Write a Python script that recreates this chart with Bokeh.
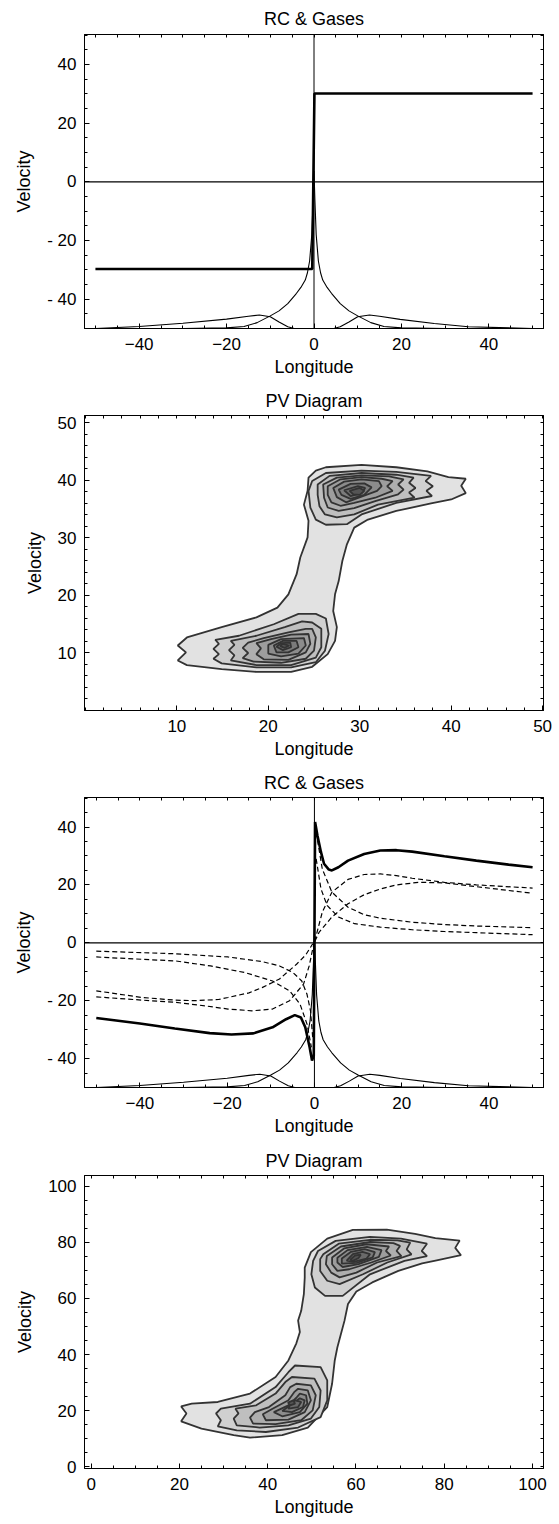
from bokeh.plotting import figure
from bokeh.layouts import column
from bokeh.models import LinearAxis, FixedTicker, Range1d, Span, ColumnDataSource
from bokeh.embed import file_html
from bokeh.resources import INLINE

FONT = "Liberation Sans"
TICK_FS = "17px"
LABEL_FS = "18px"

# ---------------- Panel 1: RC & Gases (step rotation curve) ----------------
RC1_X = [-50, -0.4, 0.1, 50]
RC1_Y = [-29.7, -29.7, 30.1, 30.1]

GAS_C_X = [-50, -30, -20, -16, -13, -10, -8, -6, -4, -3, -2, -1.5, -1, -0.5, -0.2, 0,
           0.2, 0.5, 1, 1.5, 2, 3, 4, 6, 8, 10, 13, 16, 20, 30, 50]
GAS_C_Y = [-50, -50, -49.8, -49.3, -48, -45.7, -44, -41.5, -38, -36, -33.5, -31, -27, -18, -6, 3.7,
           -6, -18, -27, -31, -33.5, -36, -38, -41.5, -44, -45.7, -48, -49.3, -49.8, -50, -50]
GAS_L_X = [-50, -40, -30, -20, -15, -12.5, -10, -8, -6, -4.5, 0]
GAS_L_Y = [-50, -49.3, -48.2, -46.8, -45.8, -45.4, -46, -47.8, -49.4, -50, -50]
GAS_R_X = [0, 4.5, 6, 8, 10, 12.7, 15, 19.7, 27.5, 35.3, 50]
GAS_R_Y = [-50, -50, -49.4, -47.8, -46, -45.4, -45.8, -46.9, -48.3, -49.4, -50]

# ---------------- Panel 3: RC & Gases (model rotation curve) ----------------
RC3_X = [-50, -40, -32, -24, -19, -14, -9.6, -6.5, -4.5, -3.1, -2.1, -1.1, -0.55, -0.15,
         0.15, 0.7, 1.5, 2.2, 3.3, 4, 5.5, 7.7, 11.4, 15.1, 18.8, 22.4, 29.8, 37.1, 44.5, 50]
RC3_Y = [-26, -27.9, -29.6, -31.2, -31.7, -31.3, -29.2, -26.4, -25, -25.8, -29.2, -36.1, -40.7, -39,
         41.7, 37, 31.3, 27.3, 25.3, 25, 26.1, 28.4, 30.7, 31.9, 32, 31.5, 29.9, 28.4, 27, 26.1]

DA_X = [0.4, 1.8, 4, 7.7, 11.4, 15.1, 22.4, 29.8, 37.1, 50]
DA_Y = [38.2, 25.5, 17.5, 12.3, 9.7, 8.5, 7.1, 6.3, 5.8, 5.2]
DB_X = [0.4, 1.5, 2.9, 5.5, 9.2, 15.1, 22.4, 29.8, 37.1, 50]
DB_Y = [29, 18.6, 12.9, 8.9, 6.6, 5.4, 4.5, 3.9, 3.5, 2.8]
DC_X = [0.1, 0.4, 1.8, 4, 7.7, 11.4, 15.1, 18.8, 22.4, 29.8, 37.1, 50]
DC_Y = [0.5, 2.5, 10.6, 17.5, 21.9, 23.6, 23.8, 23.2, 22.3, 20.9, 20, 18.9]
DD_X = [0.1, 1.1, 4, 7.7, 11.4, 15.1, 18.8, 23.9, 29.8, 37.1, 50]
DD_Y = [0.5, 3.7, 8.9, 13.5, 16.6, 18.6, 20, 20.9, 20.7, 19.4, 17.1]

DA2_X = [-50, -31.7, -23.8, -15.9, -9.6, -5.7, -3.3, -1.7, -0.7]
DA2_Y = [-4.9, -6.3, -8, -10.3, -13.2, -16.6, -21.2, -28.1, -36.1]
DB2_X = [-50, -31.7, -19.8, -12, -8, -4.9, -2.9, -1.7, -0.9, -0.4]
DB2_Y = [-2.9, -3.8, -4.9, -6.5, -8, -10.3, -13.2, -17.8, -23.5, -32.7]
DC2_X = [-50, -39.5, -31.7, -25, -19.8, -14.3, -9.6, -5.7, -2.5, -1.2, -0.5, -0.1]
DC2_Y = [-18.7, -19.8, -20.6, -21.8, -22.9, -23.5, -22.9, -20, -14.3, -8, -2.9, -0.5]
DD2_X = [-50, -39.5, -32, -27.7, -22, -19.8, -15, -12, -8, -4.1, -2, -0.5, -0.1]
DD2_Y = [-16.6, -18.9, -19.8, -20, -19.6, -18.9, -17.3, -15.5, -12.5, -7.4, -4.2, -0.6, -0.2]

# ---------------- Panel 2: PV diagram contours (level 1 .. 9) ----------------
P2_L1_X = [41.6, 39.7, 37.4, 34, 30.2, 26.3, 25.2, 24.4, 24.3, 23.9, 24.4, 24.3, 23.5, 23.1, 22.2,
           21.0, 18.7, 14.9, 11.1, 10.1, 11.0, 10.1, 11.1, 14.9, 18.7, 22.5, 24.8, 26.5, 27.3, 27.5,
           27.1, 27.3, 27.7, 28.1, 28.6, 29.4, 30.9, 34, 37.8, 40, 41.6, 41.1]
P2_L1_Y = [40.3, 40.6, 41.6, 42.3, 42.7, 42.3, 41.7, 40.5, 38.2, 35.8, 33, 30.1, 26.6, 23.7, 20.2,
           17.9, 16.2, 14.5, 12.7, 11.3, 10.1, 8.7, 7.9, 7.2, 6.7, 6.7, 7.6, 9.8, 12.1, 14.5,
           17.3, 20.2, 22.5, 26, 28.9, 31.8, 33.2, 34.7, 36, 36.7, 37.8, 39.1]
P2_U_X = [
    [24.8, 26.3, 30.2, 34, 37.8, 37.2, 38, 37.3, 37.9, 34, 30.2, 28.6, 26.3, 25.2, 24.6, 24.4],
    [25.4, 26.7, 30.2, 34, 35.9, 35.4, 36.1, 35.4, 36, 32, 29.4, 27.5, 26.2, 25.6, 25.4],
    [26, 27.5, 30.2, 33.2, 34.8, 34.2, 34.8, 34.2, 31.7, 29.4, 27.7, 26.5, 26.1],
    [26.5, 27.9, 30.2, 32.4, 33.6, 33, 33.6, 31.7, 29.4, 27.9, 26.9, 26.5],
    [27.1, 28.3, 30.2, 32.1, 32.4, 31.9, 30.2, 28.5, 27.5],
    [27.7, 29, 30.5, 31.3, 30.5, 29, 28],
    [28.3, 29.8, 30.6, 30.2, 29],
    [28.9, 30, 30.5, 30, 29.3],
]
P2_U_Y = [
    [39.9, 41.3, 41.7, 41.5, 40.8, 39.9, 39, 38.2, 37.3, 36.1, 34.1, 32.4, 32.3, 33.2, 35.3, 38.2],
    [39.3, 40.8, 41.3, 41, 40.5, 39.6, 38.7, 37.9, 37, 35.8, 34.1, 33.6, 34.1, 35.5, 37.5],
    [39.3, 40.5, 40.9, 40.7, 40.2, 39.3, 38.4, 37.6, 36.4, 35.2, 34.7, 35.3, 37],
    [39, 40.2, 40.6, 40.3, 39.9, 39, 38.2, 37, 36.1, 35.6, 36.2, 37.5],
    [38.7, 39.8, 40.2, 39.9, 39, 38.2, 37.2, 36.2, 37.1],
    [38.4, 39.4, 39.5, 38.8, 37.5, 36.8, 37.5],
    [38.3, 39, 38.7, 37.8, 37.3],
    [38.2, 38.7, 38.2, 37.5, 37.6],
]
P2_D_X = [
    [23.3, 25.2, 26.3, 26.6, 26.2, 25.2, 22.5, 18.7, 14.9, 14, 14.6, 14, 14.6, 14.2, 16.8, 20.6],
    [23.7, 24.8, 25.8, 25.8, 25.2, 22.5, 18.7, 15.9, 16.3, 15.7, 16.3, 15.9, 18.7, 21.8],
    [24.1, 24.8, 25.2, 25, 24.1, 21.4, 18.4, 17.2, 17.8, 17.2, 17.8, 19.5, 22.2],
    [22.5, 24.4, 24.6, 24.1, 22.2, 19.5, 18.7, 19.2, 18.7, 20.3],
    [21.4, 23.9, 24.1, 23.3, 21.4, 20, 20],
    [21.6, 23.1, 23.3, 22.2, 20.9, 20.6],
    [21.4, 22.4, 22.5, 21.6, 20.9],
    [21.6, 22.3, 21.8, 21.3],
]
P2_D_Y = [
    [16.8, 16.8, 16, 13.3, 10.4, 8.4, 7.5, 7.5, 8.2, 9, 9.8, 10.7, 11.6, 12.3, 13, 15],
    [15.5, 15.3, 14.2, 11, 9.2, 7.9, 7.9, 8.7, 9.6, 10.5, 11.4, 12.1, 13, 14.5],
    [14.2, 14.2, 12.7, 10.4, 9, 8.3, 8.5, 9.1, 10, 10.9, 11.8, 12.6, 13.6],
    [13.2, 13.3, 11.6, 10.1, 8.8, 8.9, 9.8, 10.8, 11.7, 12.4],
    [12.4, 12.6, 11.3, 9.9, 9.4, 9.9, 11.4],
    [12.1, 12.1, 11, 10.1, 10.1, 11.3],
    [11.7, 11.8, 11, 10.5, 11.1],
    [11.6, 11.3, 10.9, 11.2],
]

# ---------------- Panel 4: PV diagram contours ----------------
P4_L1_X = [83.5, 78, 73.4, 67, 59.3, 53.5, 49.8, 48.4, 48.4, 48.2, 47.6, 46.9, 47.3, 46.5, 44.7,
           41.8, 36, 28.7, 22.8, 20.4, 21.6, 20.4, 25, 32.3, 36, 43.3, 49.1, 53.5, 54.6, 55.2,
           55.8, 56.6, 57.4, 58.2, 60.1, 63.7, 69.6, 75, 78.3, 83.8, 82.5]
P4_L1_Y = [80.6, 81.5, 83, 84.5, 84.4, 81.3, 76.5, 71, 67.4, 61.5, 55.6, 52.1, 48, 44, 37.9,
           32, 26.1, 23.1, 22.5, 21.5, 19, 16.2, 13.6, 11.3, 10.4, 11.3, 14, 21.3, 29.6, 37.9,
           42.6, 47.3, 52, 58, 62.5, 65.7, 69.8, 72.5, 73.6, 75.4, 78]
P4_U_X = [
    [50.3, 51.4, 55.4, 63.2, 70.2, 76.1, 74.9, 76.1, 71, 63.2, 57, 53, 50.7, 49.9],
    [51.9, 52.6, 56.1, 63.2, 69.4, 72.3, 71.5, 72.6, 67.1, 61.6, 56.3, 53.5, 51.9],
    [53.2, 53.4, 56.6, 63.2, 68.5, 70, 69.2, 70.3, 64.8, 60.1, 56.3, 54.4],
    [54.6, 54.6, 57.3, 62.4, 67.5, 66.8, 67.9, 63.5, 58.5, 55.8],
    [55.8, 55.8, 58.1, 62.5, 65.8, 65.2, 60.6, 57],
    [56.8, 56.8, 58.9, 62, 64.3, 63.8, 60.2],
    [57.9, 59.3, 61.5, 63.2, 62.4, 59.5],
    [58.7, 59.8, 61.1, 60.6, 59.3],
]
P4_U_Y = [
    [73.4, 76.9, 80.5, 81.9, 81.3, 79.5, 76.9, 75.1, 73.4, 68.6, 60.9, 60.9, 63.9, 68.6],
    [74, 75.7, 79.5, 80.9, 80.7, 79.9, 77.5, 75.7, 72.8, 68.6, 65.1, 66.3, 69.8],
    [72.2, 75.1, 78.5, 80.1, 79.7, 78.7, 76.9, 75.1, 72.8, 69.2, 67.5, 69.2],
    [72.2, 74.6, 77.8, 79.3, 78.5, 76.9, 75.3, 72.8, 70.4, 69.8],
    [72.8, 74.5, 77.2, 78.4, 77.2, 74.8, 72.2, 71.2],
    [72.4, 74.2, 76.6, 77.6, 76.5, 74.6, 72.7],
    [73.5, 75.8, 76.6, 75.8, 74.2, 73],
    [73.8, 75.3, 75.6, 74.4, 73.4],
]
P4_D_X = [
    [46.2, 52, 53.5, 53.5, 52, 46.9, 39.6, 33, 28.7, 29.4, 28.3, 29.4, 36, 41.8, 44.7],
    [45.5, 50.6, 52, 51.7, 49.8, 44.7, 38.2, 33, 32.3, 33.4, 32.7, 37.4, 41.8, 44],
    [46.5, 49.8, 50.9, 50.2, 47.6, 41.8, 36.7, 36, 37.1, 40.3, 44, 45.1],
    [46.9, 49.1, 49.8, 48.4, 44.7, 39.6, 38.9, 41.1, 44.7, 46],
    [47.3, 48.7, 49, 47.3, 43.3, 41.4, 44.7, 46.5],
    [47.3, 48.4, 48, 45.5, 43.3, 45.1],
    [46.2, 47.6, 46.9, 44.7, 45.1],
    [45.8, 46.2, 45.1, 44.6],
]
P4_D_Y = [
    [36.1, 35.5, 30.8, 23.7, 17.7, 14, 12.4, 13, 14.4, 16.6, 19, 20.7, 22.5, 28.4, 33.7],
    [32, 31.4, 27.2, 21.3, 17.2, 14.8, 14, 14.8, 17.2, 19, 20.7, 21.9, 26.1, 30.2],
    [29.6, 29, 25.5, 20.1, 16.6, 15.2, 15.4, 17.5, 19.5, 21.3, 25.5, 28.4],
    [27.8, 27.2, 23.7, 19.5, 16.8, 16.6, 18.7, 20.7, 23.7, 26.6],
    [26.1, 25.5, 22.5, 19.5, 18, 19.5, 21.9, 24.6],
    [24.4, 23.7, 21.3, 19.5, 19.9, 21.9],
    [23.7, 23.1, 21.3, 20.7, 22.3],
    [23.7, 22.5, 21.9, 22.9],
]

LEVEL_FILLS = ["#e2e2e2", "#d0d0d0", "#bfbfbf", "#aeaeae", "#9d9d9d",
               "#8c8c8c", "#7b7b7b", "#6a6a6a", "#555555"]


def style_axis(ax, ticks, minor):
    ax.ticker = FixedTicker(ticks=ticks, minor_ticks=minor)
    ax.major_tick_in = 5
    ax.major_tick_out = 0
    ax.minor_tick_in = 3
    ax.minor_tick_out = 0
    ax.axis_line_color = "black"
    ax.major_tick_line_color = "black"
    ax.minor_tick_line_color = "black"
    ax.major_label_text_font = FONT
    ax.major_label_text_font_size = TICK_FS
    ax.major_label_text_color = "black"
    ax.axis_label_text_font = FONT
    ax.axis_label_text_font_size = LABEL_FS
    ax.axis_label_text_font_style = "normal"
    ax.axis_label_text_color = "black"


def mirror_axis(ticks, minor):
    # tick marks only (no labels) for the top / right frame edges
    ax = LinearAxis(ticker=FixedTicker(ticks=[], minor_ticks=sorted(set(ticks) | set(minor))))
    ax.axis_label = None
    ax.minor_tick_in = 3
    ax.minor_tick_out = 0
    ax.major_tick_in = 0
    ax.major_tick_out = 0
    ax.major_label_standoff = 0
    ax.axis_label_standoff = 0
    ax.axis_line_color = "black"
    ax.minor_tick_line_color = "black"
    return ax


def make_fig(height, xr, yr, borders, title, title_standoff, xt, xm, yt, ym):
    bl, br, bt, bb = borders
    p = figure(width=559, height=height, x_range=Range1d(*xr), y_range=Range1d(*yr),
               output_backend="svg", toolbar_location=None,
               min_border_left=bl, min_border_right=br, min_border_top=bt, min_border_bottom=bb,
               x_axis_label="Longitude", y_axis_label="Velocity")
    p.title.text = title
    p.title.align = "center"
    p.title.text_font = FONT
    p.title.text_font_size = LABEL_FS
    p.title.text_font_style = "normal"
    p.title.text_color = "black"
    p.title.standoff = title_standoff
    p.grid.visible = False
    p.outline_line_color = "black"
    p.outline_line_width = 1
    p.background_fill_color = "white"
    p.border_fill_color = "white"
    style_axis(p.xaxis[0], xt, xm)
    style_axis(p.yaxis[0], yt, ym)
    p.xaxis[0].major_label_standoff = 9
    p.xaxis[0].axis_label_standoff = 4
    p.yaxis[0].major_label_standoff = 8
    p.yaxis[0].axis_label_standoff = 10
    p.add_layout(mirror_axis(xt, xm), "above")
    p.add_layout(mirror_axis(yt, ym), "right")
    return p


def rc_panel(height, borders, title_standoff, xr, rc_x, rc_y, dashed=None):
    ticks = [-40, -20, 0, 20, 40]
    minor = [v for v in range(-50, 51, 5)]
    p = make_fig(height, xr, (-50, 50.2), borders, "RC & Gases", title_standoff,
                 ticks, minor, ticks, minor)
    p.xaxis[0].major_label_overrides = {-40: "- 40", -20: "- 20"}
    p.yaxis[0].major_label_overrides = {-40: "- 40", -20: "- 20"}
    p.add_layout(Span(location=0, dimension="width", line_color="black", line_width=1.2))
    p.add_layout(Span(location=0, dimension="height", line_color="black", line_width=1.0))
    for gx, gy in ((GAS_C_X, GAS_C_Y), (GAS_L_X, GAS_L_Y), (GAS_R_X, GAS_R_Y)):
        p.line(gx, gy, line_color="black", line_width=1.1)
    if dashed:
        for dx, dy in dashed:
            p.line(dx, dy, line_color="black", line_width=1.2, line_dash="5 3")
    p.line(rc_x, rc_y, line_color="black", line_width=2.6)
    return p


def pv_panel(height, borders, title_standoff, xr, yr, xt, xm, yt, ym, l1x, l1y, ux, uy, dx, dy):
    p = make_fig(height, xr, yr, borders, "PV Diagram", title_standoff, xt, xm, yt, ym)
    xs, ys, cols = [l1x], [l1y], [LEVEL_FILLS[0]]
    for i in range(len(ux)):
        xs += [ux[i], dx[i]]
        ys += [uy[i], dy[i]]
        cols += [LEVEL_FILLS[i + 1]] * 2
    src = ColumnDataSource(dict(xs=xs, ys=ys, c=cols))
    p.patches("xs", "ys", source=src, fill_color="c", line_color="#333333", line_width=1.8)
    return p


p1 = rc_panel(384, (80, 1, 33, 56), 12, (-52.5, 52.5), RC1_X, RC1_Y)
p2 = pv_panel(381, (72, 16, 30, 55), 9, (-0.1, 50.1), (0, 51.3),
              [10, 20, 30, 40, 50], [v for v in range(0, 51, 2)],
              [10, 20, 30, 40, 50], [v for v in range(0, 52, 2)],
              P2_L1_X, P2_L1_Y, P2_U_X, P2_U_Y, P2_D_X, P2_D_Y)
p3 = rc_panel(379, (84, 1, 31, 57), 10, (-52.7, 52.5), RC3_X, RC3_Y,
              dashed=[(DA_X, DA_Y), (DB_X, DB_Y), (DC_X, DC_Y), (DD_X, DD_Y),
                      (DA2_X, DA2_Y), (DB2_X, DB2_Y), (DC2_X, DC2_Y), (DD2_X, DD2_Y)])
p4 = pv_panel(380, (79, 5, 30, 56), 9, (-1.5, 102.5), (-0.6, 103.8),
              [0, 20, 40, 60, 80, 100], [v for v in range(0, 103, 5)],
              [0, 20, 40, 60, 80, 100], [v for v in range(0, 104, 5)],
              P4_L1_X, P4_L1_Y, P4_U_X, P4_U_Y, P4_D_X, P4_D_Y)

layout = column(p1, p2, p3, p4, spacing=0)
open("out.html", "w").write(file_html(layout, INLINE))
